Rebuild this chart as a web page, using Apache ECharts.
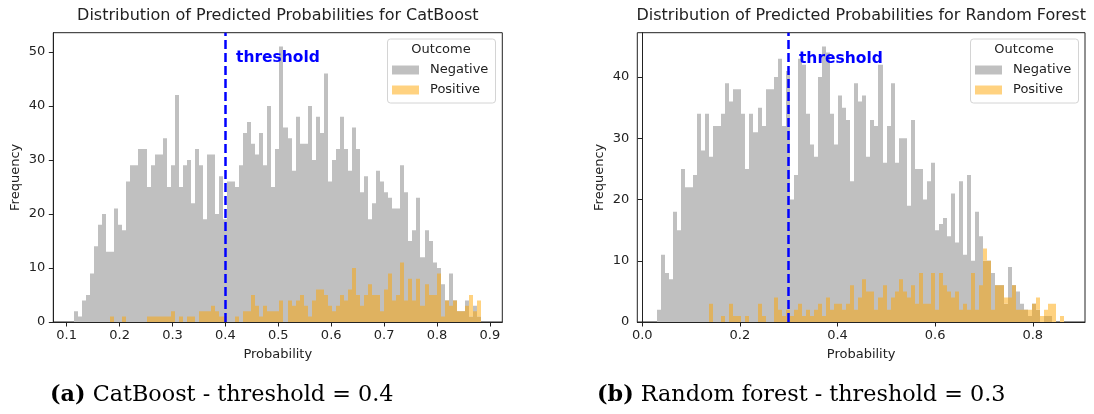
<!DOCTYPE html>
<html><head><meta charset="utf-8">
<script src="https://cdn.jsdelivr.net/npm/echarts@6/dist/echarts.min.js"></script>
<style>html,body{margin:0;padding:0;background:#fff}#c{width:1094px;height:414px}</style>
</head><body><div id="c"></div>
<script>
// ---------- data ----------
const cbNegative = [2,1,4,5,9,14,18,20,13,13,21,18,17,26,29,29,32,32,25,29,31,31,34,25,29,42,
  25,29,30,22,32,29,19,31,31,20,27,19,26,26,25,29,35,37,33,31,35,29,40,25,32,51,
  36,34,28,38,33,33,40,30,38,35,46,26,30,32,38,32,28,36,32,24,27,19,22,28,26,24,23,
  21,21,29,24,15,17,23,12,17,15,11,10,7,4,9,4,2,2,4,1,3,1];
const cbPositive = [0,0,0,0,0,0,0,0,0,1,0,0,1,0,0,0,0,0,1,1,1,1,1,1,2,0,
  1,0,1,1,0,2,2,2,3,2,1,1,0,0,1,0,2,2,5,3,1,3,2,2,2,4,
  0,4,3,4,5,3,1,4,6,6,5,3,2,3,5,4,6,10,5,3,5,7,5,5,2,6,9,
  4,5,11,4,8,4,8,3,7,5,5,9,1,4,3,4,2,2,3,5,2,4];
const rfNegative = [2,11,8,7,18,15,25,22,22,24,34,28,34,27,32,32,34,39,36,38,38,34,25,34,31,
  35,32,38,38,40,43,32,41,20,24,43,42,34,29,27,40,45,44,34,29,37,35,33,23,39,36,
  37,27,33,32,42,26,32,39,26,30,30,19,33,25,25,20,23,26,15,16,17,14,21,13,23,11,24,
  10,18,14,10,10,8,6,6,3,9,6,5,3,2,1,3,2,0,1,1,0,0,0];
const rfPositive = [0,0,0,0,0,0,0,0,0,0,0,0,0,3,0,0,1,0,3,1,1,0,1,0,0,
  3,1,0,0,4,2,1,2,1,2,3,1,2,1,2,3,1,4,2,3,3,2,3,6,2,4,
  7,5,5,2,4,6,2,4,5,7,5,4,6,3,8,3,3,8,2,8,6,5,4,5,2,3,2,
  8,2,6,12,10,2,6,6,4,4,6,2,2,2,2,3,4,1,2,3,3,0,1];
const cbBinRange = [0.1138, 0.883];
const rfBinRange = [0.0295, 0.864];
const cbThreshold = 0.4;
const rfThreshold = 0.3;
const cbXTicks = [0.1,0.2,0.3,0.4,0.5,0.6,0.7,0.8,0.9];
const rfXTicks = [0.0,0.2,0.4,0.6,0.8];
const cbYTicks = [0,10,20,30,40,50];
const rfYTicks = [0,10,20,30,40];
const legendTitle = 'Outcome';
const legendNames = ['Negative','Positive'];
const titleTexts = ['Distribution of Predicted Probabilities for CatBoost','Distribution of Predicted Probabilities for Random Forest'];
const captionTags = ['(a)','(b)'];
const captionTexts = [' CatBoost - threshold = 0.4',' Random forest - threshold = 0.3'];
const thresholdLabel = 'threshold';

// ---------- styles ----------
const F = 'DejaVu Sans';
const SERIF = 'DejaVu Serif';
const INK = '#222';
const GRAY = '#c0c0c0', MIX = '#dfb260', ORANGE = '#ffd280';

function buildBins(range, neg, pos){
  const n = neg.length, w = (range[1]-range[0])/n;
  return neg.map((v,i)=>[range[0]+i*w, range[0]+(i+1)*w, v, pos[i]]);
}
function negRender(params, api){
  const v = api.value(2); if (!(v>0)) return null;
  const a = api.coord([api.value(0), v]), b = api.coord([api.value(1), 0]);
  const l = Math.round(a[0]), r = Math.round(b[0]);
  return {type:'rect', shape:{x:l, y:a[1], width:r-l, height:b[1]-a[1]}, style:{fill:GRAY}};
}
function posRender(params, api){
  const g = api.value(2), o = api.value(3); if (!(o>0)) return null;
  const x0 = api.value(0), x1 = api.value(1);
  const base = api.coord([x1,0]);
  const l = Math.round(api.coord([x0,0])[0]), r = Math.round(base[0]);
  const m = Math.min(g,o), kids = [];
  if (m>0){ const t = api.coord([x0,m]); kids.push({type:'rect', shape:{x:l,y:t[1],width:r-l,height:base[1]-t[1]}, style:{fill:MIX}}); }
  if (o>g){ const t = api.coord([x0,o]), bt = api.coord([x0,g]); kids.push({type:'rect', shape:{x:l,y:t[1],width:r-l,height:bt[1]-t[1]}, style:{fill:ORANGE}}); }
  return {type:'group', children:kids};
}
function xAxisCfg(gi, min, max, ticks){
  return {type:'value', gridIndex:gi, min, max, name:'Probability', nameLocation:'middle', nameGap:26,
    nameTextStyle:{fontFamily:F, fontSize:13, color:INK},
    axisLine:{show:true, onZero:false, lineStyle:{color:INK, width:1}},
    axisTick:{show:true, inside:false, length:4.5, customValues:ticks, lineStyle:{color:INK, width:1}},
    axisLabel:{customValues:ticks, formatter:v=>v.toFixed(1), margin:7, fontFamily:F, fontSize:13, color:INK},
    splitLine:{show:false}};
}
function yAxisCfg(gi, max, ticks){
  return {type:'value', gridIndex:gi, min:0, max, name:'Frequency', nameLocation:'middle', nameGap:31, nameRotate:90,
    nameTextStyle:{fontFamily:F, fontSize:13, color:INK},
    axisLine:{show:true, lineStyle:{color:INK, width:1}},
    axisTick:{show:true, inside:false, length:4.5, customValues:ticks, lineStyle:{color:INK, width:1}},
    axisLabel:{customValues:ticks, margin:8, fontFamily:F, fontSize:13, color:INK},
    splitLine:{show:false}};
}
function seriesPair(gi, data, thr, labelCoord){
  return [
    {type:'custom', name:legendNames[0], xAxisIndex:gi, yAxisIndex:gi, data, renderItem:negRender,
     encode:{x:[0,1], y:2}, clip:true, z:2, silent:true},
    {type:'custom', name:legendNames[1], xAxisIndex:gi, yAxisIndex:gi, data, renderItem:posRender,
     encode:{x:[0,1], y:3}, clip:true, z:3, silent:true,
     markLine:{silent:true, symbol:['none','none'], label:{show:false}, z:5,
       lineStyle:{color:'#0000ff', width:2.5, type:[9,4]}, data:[{xAxis:thr}]},
     markPoint:{silent:true, symbol:'rect', symbolSize:0, z:6,
       label:{show:true, formatter:thresholdLabel, position:[0,0], align:'left', verticalAlign:'middle',
         fontFamily:F, fontWeight:'bold', fontSize:15.5, color:'#0000ff'},
       data:[{coord:labelCoord}]}}
  ];
}
function legendGroup(x, y){
  return {type:'group', x, y, silent:true, children:[
    {type:'rect', shape:{x:0.5, y:0.5, width:108, height:64, r:3}, style:{fill:'rgba(255,255,255,0.8)', stroke:'#d4d4d4', lineWidth:1}},
    {type:'text', x:54, y:11, style:{text:legendTitle, fontFamily:F, fontSize:13, fill:INK, align:'center', verticalAlign:'middle'}},
    {type:'rect', shape:{x:5, y:27, width:27, height:9}, style:{fill:GRAY}},
    {type:'text', x:43, y:31.5, style:{text:legendNames[0], fontFamily:F, fontSize:13, fill:INK, align:'left', verticalAlign:'middle'}},
    {type:'rect', shape:{x:5, y:47, width:27, height:9}, style:{fill:ORANGE}},
    {type:'text', x:43, y:51.5, style:{text:legendNames[1], fontFamily:F, fontSize:13, fill:INK, align:'left', verticalAlign:'middle'}}
  ]};
}

const cbData = buildBins(cbBinRange, cbNegative, cbPositive);
const rfData = buildBins(rfBinRange, rfNegative, rfPositive);

const CAP = 22.3;
const chart = echarts.init(document.getElementById('c'));
chart.setOption({
  animation:false,
  backgroundColor:'#fff',
  grid:[
    {left:53.3, right:1094-502.3, top:32.7, bottom:92, show:true, borderColor:INK, borderWidth:1, backgroundColor:'transparent'},
    {left:637.3, right:1094-1085, top:32.7, bottom:92, show:true, borderColor:INK, borderWidth:1, backgroundColor:'transparent'}
  ],
  xAxis:[xAxisCfg(0, 0.0747, 0.9234, cbXTicks), xAxisCfg(1, -0.0102, 0.907, rfXTicks)],
  yAxis:[yAxisCfg(0, 53.55, cbYTicks), yAxisCfg(1, 47.25, rfYTicks)],
  series:[].concat(
    seriesPair(0, cbData, cbThreshold, [0.42, 48.8]),
    seriesPair(1, rfData, rfThreshold, [0.321, 42.9])
  ),
  graphic:[
    {type:'text', x:277.8, y:16, style:{text:titleTexts[0], fontFamily:F, fontSize:16, fill:INK, align:'center', verticalAlign:'middle'}},
    {type:'text', x:861.2, y:16, style:{text:titleTexts[1], fontFamily:F, fontSize:16, fill:INK, align:'center', verticalAlign:'middle'}},
    legendGroup(387, 38.5),
    legendGroup(970, 38.5),
    {type:'text', x:50, y:395, style:{text:'{b|'+captionTags[0]+'}'+captionTexts[0], fontFamily:SERIF, fontSize:CAP, fill:'#000', verticalAlign:'middle',
      rich:{b:{fontFamily:SERIF, fontSize:CAP, fontWeight:'bold', fill:'#000'}}}},
    {type:'text', x:597, y:395, style:{text:'{b|'+captionTags[1]+'}'+captionTexts[1], fontFamily:SERIF, fontSize:CAP, fill:'#000', verticalAlign:'middle',
      rich:{b:{fontFamily:SERIF, fontSize:CAP, fontWeight:'bold', fill:'#000'}}}}
  ]
});
</script></body></html>
